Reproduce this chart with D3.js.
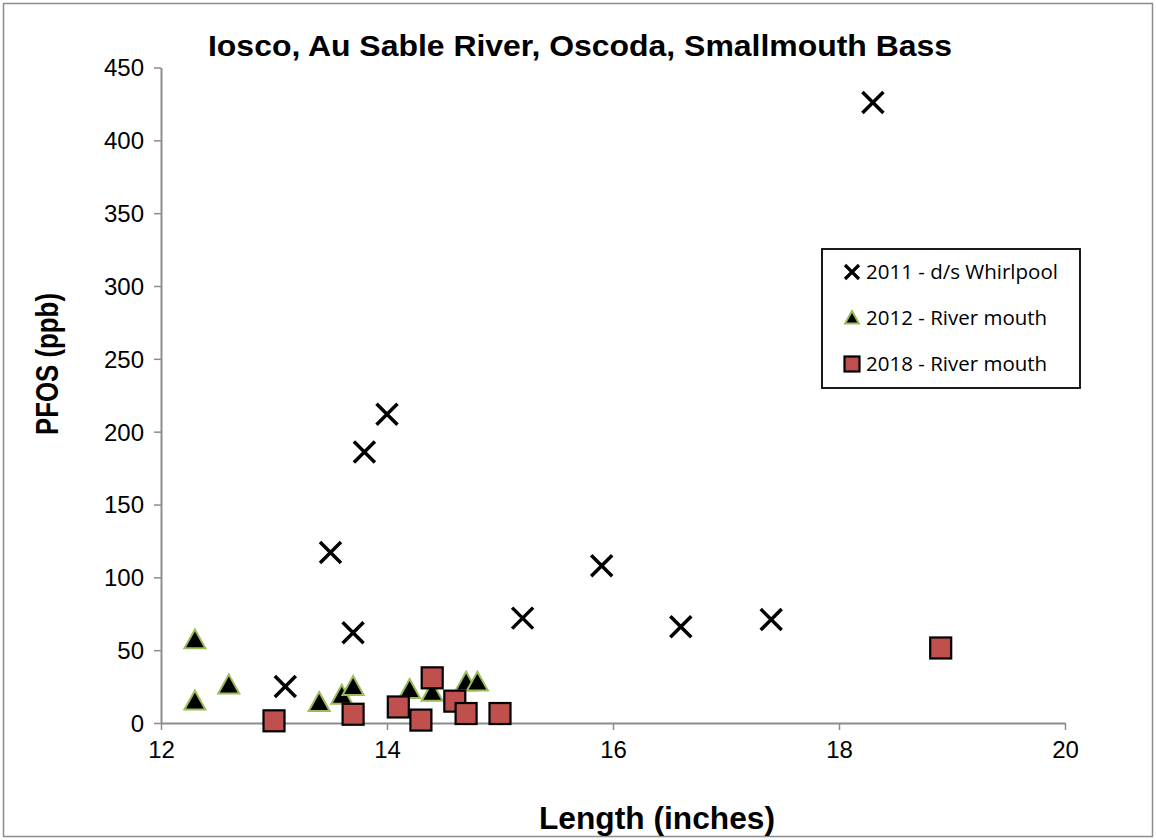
<!DOCTYPE html>
<html><head><meta charset="utf-8">
<script src="https://cdn.jsdelivr.net/npm/d3@7"></script>
<style>body{margin:0;background:#fff}svg{display:block}</style>
</head><body>
<script>
const title = "Iosco, Au Sable River, Oscoda, Smallmouth Bass";
const xLabel = "Length (inches)";
const yLabel = "PFOS (ppb)";
const xTicks = [12, 14, 16, 18, 20];
const yTicks = [0, 50, 100, 150, 200, 250, 300, 350, 400, 450];

const seriesNames = ["2011 - d/s Whirlpool", "2012 - River mouth", "2018 - River mouth"];
const len2011 = [13.1, 13.5, 13.7, 13.8, 14.0, 15.2, 15.9, 16.6, 17.4, 18.3];
const pfos2011 = [25, 117, 62, 186, 212, 72, 108, 66, 71, 426];
const len2012 = [12.3, 12.3, 12.6, 13.4, 13.6, 13.7, 14.2, 14.4, 14.7, 14.8];
const pfos2012 = [57, 15, 26, 14, 19, 25, 23, 21, 28, 28];
const len2018 = [13.0, 13.7, 14.1, 14.3, 14.4, 14.6, 14.7, 15.0, 18.9];
const pfos2018 = [1.5, 6, 11, 2, 31, 15, 6.5, 6.5, 51.5];

const W = 1156, H = 840;
const svg = d3.select("body").append("svg").attr("width", W).attr("height", H);
svg.append("rect").attr("x", 3.5).attr("y", 3.5).attr("width", W - 7).attr("height", H - 7)
  .attr("fill", "#fff").attr("stroke", "#8c8c8c").attr("stroke-width", 1.5);

const x = d3.scaleLinear().domain([12, 20]).range([161, 1065]);
const y = d3.scaleLinear().domain([0, 450]).range([723, 67.5]);

const font = "'Liberation Sans', Arial, sans-serif";

// axes
const xAxis = svg.append("g").attr("transform", `translate(0,${y(0)})`)
  .call(d3.axisBottom(x).tickValues(xTicks).tickSize(7).tickPadding(11).tickSizeOuter(0));
const yAxis = svg.append("g").attr("transform", `translate(${x(12)},0)`)
  .call(d3.axisLeft(y).tickValues(yTicks).tickSize(7).tickPadding(10).tickSizeOuter(0));
[xAxis, yAxis].forEach(g => {
  g.select(".domain").attr("stroke", "#8c8c8c").attr("stroke-width", 2);
  g.selectAll(".tick line").attr("stroke", "#8c8c8c").attr("stroke-width", 1.5);
  g.selectAll(".tick text").attr("font-family", font).attr("font-size", 24).attr("fill", "#000");
});
xAxis.selectAll(".tick text").attr("dy", "0.71em");
yAxis.selectAll(".tick text").attr("dy", "0.35em");

// title & labels
svg.append("text").attr("x", 580).attr("y", 56).attr("text-anchor", "middle")
  .attr("font-family", font).attr("font-weight", "bold").attr("font-size", 30)
  .attr("textLength", 744).attr("lengthAdjust", "spacingAndGlyphs").text(title);
svg.append("text").attr("x", 657).attr("y", 829).attr("text-anchor", "middle")
  .attr("font-family", font).attr("font-weight", "bold").attr("font-size", 31)
  .attr("textLength", 236).attr("lengthAdjust", "spacingAndGlyphs").text(xLabel);
svg.append("text").attr("transform", "translate(58,364) rotate(-90)").attr("text-anchor", "middle")
  .attr("font-family", font).attr("font-weight", "bold").attr("font-size", 31)
  .attr("textLength", 142).attr("lengthAdjust", "spacingAndGlyphs").text(yLabel);

// markers
const xPath = s => `M${-s},${-s}L${s},${s}M${-s},${s}L${s},${-s}`;
const triPath = s => `M0,${-s}L${s},${s * 0.8}L${-s},${s * 0.8}Z`;
function drawX(g, s, w) { g.append("path").attr("d", xPath(s)).attr("stroke", "#000").attr("stroke-width", w || 3.5).attr("fill", "none"); }
function drawTri(g, s) { g.append("path").attr("d", triPath(s)).attr("fill", "#000").attr("stroke", "#9bbb59").attr("stroke-width", 2); }
function drawSq(g, s) { g.append("rect").attr("x", -s).attr("y", -s).attr("width", 2 * s).attr("height", 2 * s).attr("fill", "#c0504d").attr("stroke", "#000").attr("stroke-width", 2.2); }

const d2011 = len2011.map((v, i) => [v, pfos2011[i]]);
const d2012 = len2012.map((v, i) => [v, pfos2012[i]]);
const d2018 = len2018.map((v, i) => [v, pfos2018[i]]);

svg.append("g").selectAll("g").data(d2011).join("g")
  .attr("transform", d => `translate(${x(d[0])},${y(d[1])})`).each(function () { drawX(d3.select(this), 10.5); });
svg.append("g").selectAll("g").data(d2012).join("g")
  .attr("transform", d => `translate(${x(d[0])},${y(d[1])})`).each(function () { drawTri(d3.select(this), 10.5); });
svg.append("g").selectAll("g").data(d2018).join("g")
  .attr("transform", d => `translate(${x(d[0])},${y(d[1])})`).each(function () { drawSq(d3.select(this), 10.5); });

// legend
const lg = svg.append("g");
lg.append("rect").attr("x", 822).attr("y", 249).attr("width", 258).attr("height", 139)
  .attr("fill", "#fff").attr("stroke", "#000").attr("stroke-width", 1.8);
const legY = [272, 318, 364];
const drawers = [g => drawX(g, 7, 3.2), g => drawTri(g, 7), g => drawSq(g, 7.5)];
seriesNames.forEach((n, i) => {
  const g = lg.append("g").attr("transform", `translate(852,${legY[i]})`);
  drawers[i](g);
  lg.append("text").attr("x", 866).attr("y", legY[i]).attr("dy", "0.35em")
    .attr("font-family", "'Open Sans', 'Noto Sans', sans-serif").attr("font-size", 20.5).attr("fill", "#000").text(n);
});
</script>
</body></html>
